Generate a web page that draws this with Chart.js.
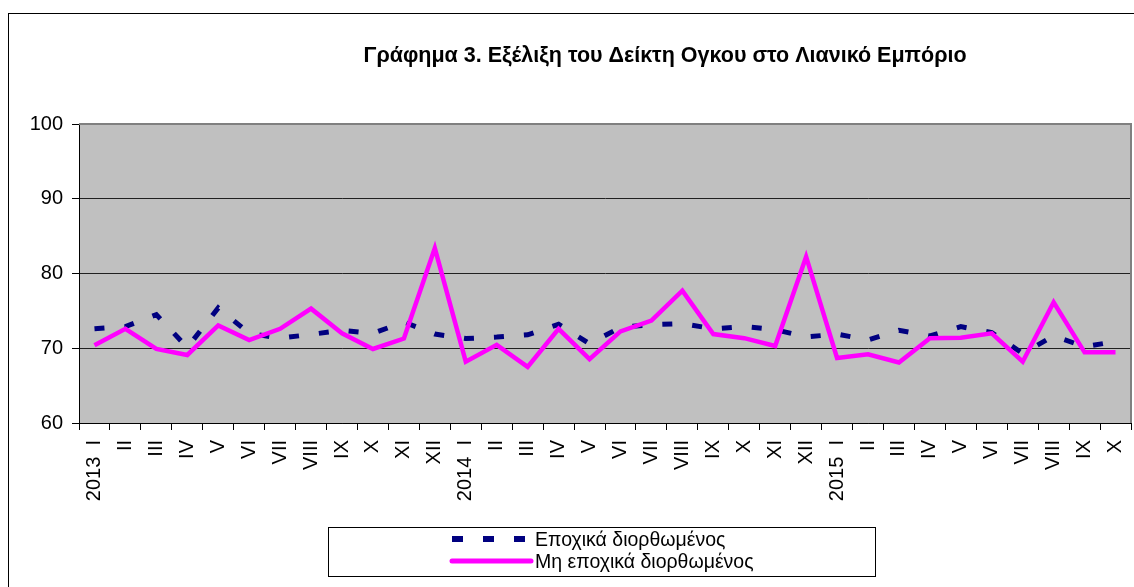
<!DOCTYPE html>
<html>
<head>
<meta charset="utf-8">
<script src="https://cdn.jsdelivr.net/npm/chart.js@4/dist/chart.umd.min.js"></script>
<style>
  html, body { margin: 0; padding: 0; background: #ffffff; }
  canvas { display: block; }
</style>
</head>
<body>
<canvas id="c" width="1134" height="587"></canvas>
<script>
const titleText = 'Γράφημα 3. Εξέλιξη του Δείκτη Ογκου στο Λιανικό Εμπόριο';
const categories = [
  '2013  I','II','III','IV','V','VI','VII','VIII','IX','X','XI','XII',
  '2014  I','II','III','IV','V','VI','VII','VIII','IX','X','XI','XII',
  '2015  I','II','III','IV','V','VI','VII','VIII','IX','X'
];
const seriesNames = ['Εποχικά διορθωμένος', 'Μη εποχικά διορθωμένος'];
const seasonallyAdjusted = [
  72.6, 72.9, 74.5, 70.1, 75.4, 72.0, 71.35, 71.85, 72.4, 72.0, 73.5, 71.9,
  71.3, 71.5, 71.8, 73.2, 70.6, 72.8, 73.15, 73.3, 72.6, 72.9, 72.5, 71.5,
  71.9, 71.1, 72.4, 71.65, 72.9, 72.1, 69.3, 71.65, 70.2, 70.9
];
const notAdjusted = [
  70.4, 72.6, 69.9, 69.1, 73.05, 71.1, 72.6, 75.3, 72.0, 69.9, 71.3, 83.4,
  68.2, 70.45, 67.5, 72.6, 68.55, 72.25, 73.7, 77.7, 71.9, 71.35, 70.3, 82.25,
  68.7, 69.2, 68.1, 71.35, 71.4, 72.0, 68.2, 76.15, 69.45, 69.45
];
const yTicks = [60, 70, 80, 90, 100];

const FONT = "'Liberation Sans', Arial, sans-serif";

const decorPlugin = {
  id: 'decor',
  beforeDraw(chart) {
    const { ctx, chartArea: a } = chart;
    ctx.save();
    ctx.fillStyle = '#ffffff';
    ctx.fillRect(0, 0, chart.width, chart.height);
    ctx.strokeStyle = '#000000';
    ctx.lineWidth = 1;
    ctx.strokeRect(8.5, 13.5, 3000, 3000);
    ctx.fillStyle = '#C0C0C0';
    ctx.fillRect(a.left, a.top, a.right - a.left, a.bottom - a.top);
    ctx.restore();
  },
  beforeDatasetsDraw(chart) {
    const { ctx, chartArea: a } = chart;
    ctx.save();
    ctx.strokeStyle = '#808080';
    ctx.lineWidth = 2;
    ctx.beginPath();
    ctx.moveTo(a.left, a.top);
    ctx.lineTo(a.right, a.top);
    ctx.lineTo(a.right, a.bottom);
    ctx.stroke();
    ctx.restore();
  },
  afterDraw(chart) {
    const { ctx } = chart;
    ctx.save();
    ctx.fillStyle = '#000000';
    ctx.font = 'bold 21.5px ' + FONT;
    ctx.textAlign = 'center';
    ctx.textBaseline = 'middle';
    ctx.fillText(titleText, 665, 56);
    ctx.strokeStyle = '#000000';
    ctx.lineWidth = 1;
    ctx.strokeRect(328.5, 527.5, 547, 49);
    const ds = chart.data.datasets;
    const blue = ds.find(d => d.label === seriesNames[0]);
    const pink = ds.find(d => d.label === seriesNames[1]);
    ctx.beginPath();
    ctx.setLineDash([11, 20]);
    ctx.lineCap = 'butt';
    ctx.strokeStyle = blue.borderColor;
    ctx.lineWidth = 6;
    ctx.moveTo(452, 539);
    ctx.lineTo(526, 539);
    ctx.stroke();
    ctx.setLineDash([]);
    ctx.beginPath();
    ctx.lineCap = 'round';
    ctx.strokeStyle = pink.borderColor;
    ctx.lineWidth = 5;
    ctx.moveTo(452, 561);
    ctx.lineTo(531, 561);
    ctx.stroke();
    ctx.fillStyle = '#000000';
    ctx.font = '19.5px ' + FONT;
    ctx.textAlign = 'left';
    ctx.textBaseline = 'middle';
    ctx.fillText(blue.label, 535, 541);
    ctx.fillText(pink.label, 535, 563);
    ctx.restore();
  }
};

new Chart(document.getElementById('c'), {
  type: 'line',
  data: {
    labels: categories,
    datasets: [
      {
        label: seriesNames[0],
        data: seasonallyAdjusted,
        borderColor: '#000080',
        borderWidth: 5,
        borderDash: [10, 20],
        borderCapStyle: 'butt',
        pointRadius: 0,
        tension: 0,
        fill: false,
        order: 2
      },
      {
        label: seriesNames[1],
        data: notAdjusted,
        borderColor: '#FF00FF',
        borderWidth: 4.5,
        pointRadius: 0,
        tension: 0,
        fill: false,
        order: 1
      }
    ]
  },
  options: {
    responsive: false,
    animation: false,
    devicePixelRatio: 1,
    layout: { padding: { top: 124, right: 3, bottom: 0, left: 0 } },
    plugins: {
      legend: { display: false },
      title: { display: false },
      tooltip: { enabled: false }
    },
    scales: {
      x: {
        offset: true,
        afterFit(scale) {
          scale.height = 164;
          scale.paddingLeft = 0;
          scale.paddingRight = 0;
        },
        grid: {
          offset: true,
          drawOnChartArea: false,
          drawTicks: true,
          tickLength: 7,
          color: '#000000',
          tickColor: '#000000'
        },
        border: { color: '#000000', width: 1 },
        ticks: {
          autoSkip: false,
          minRotation: 90,
          maxRotation: 90,
          padding: 10,
          color: '#000000',
          font: { family: FONT, size: 20 }
        }
      },
      y: {
        min: 60,
        max: 100,
        afterFit(scale) {
          scale.width = 79;
          scale.paddingTop = 0;
          scale.paddingBottom = 0;
        },
        afterBuildTicks(scale) { scale.ticks = yTicks.map(v => ({ value: v })); },
        grid: {
          color: (c) => (c.tick && c.tick.value === 100 ? '#808080' : '#202020'),
          tickColor: '#000000',
          tickLength: 7,
          lineWidth: 1
        },
        border: { color: '#000000', width: 1 },
        ticks: {
          padding: 9,
          color: '#000000',
          font: { family: FONT, size: 20 }
        }
      }
    }
  },
  plugins: [decorPlugin]
});
</script>
</body>
</html>
